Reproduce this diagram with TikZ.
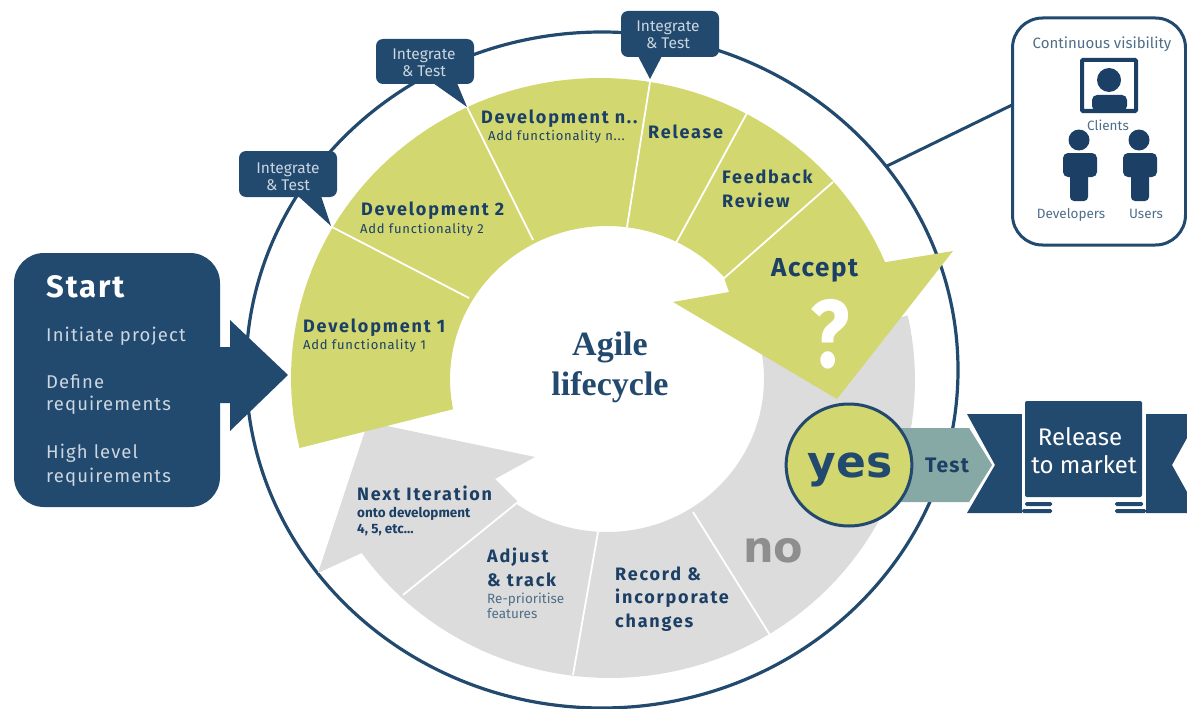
\documentclass[tikz,border=0pt]{standalone}
\usepackage{fontspec}
\setmainfont{Fira Sans}
\newfontfamily\spacedfont[LetterSpace=6]{Fira Sans}
\newfontfamily\wideheadfont[LetterSpace=10]{Fira Sans}
\newfontfamily\agilefont{Liberation Serif}
\newfontfamily\roundfont{DejaVu Sans}
\definecolor{navy}{HTML}{22496E}
\definecolor{navytext}{HTML}{1C3F66}
\definecolor{leaf}{HTML}{D2D76F}
\definecolor{ringgray}{HTML}{DCDCDC}
\definecolor{testteal}{HTML}{87A9A5}
\definecolor{paletext}{HTML}{CBD6E0}
\definecolor{notext}{HTML}{8E8E8E}
\definecolor{vistext}{HTML}{4F6E89}
\tikzset{
  lbl/.style={inner sep=0pt,anchor=base west,text=navytext},
  clbl/.style={inner sep=0pt,anchor=base,text=navytext},
  bighead/.style={font=\fontsize{18}{20}\selectfont\wideheadfont\bfseries},
  smalladd/.style={font=\fontsize{13}{15}\selectfont\spacedfont},
  startline/.style={lbl,text=paletext,font=\fontsize{18.5}{22}\selectfont\spacedfont},
  calltxt/.style={clbl,text=paletext,font=\fontsize{15.5}{17}\selectfont},
  vistxt/.style={clbl,text=vistext,font=\fontsize{13.5}{15}\selectfont},
  separator/.style={draw=white,line width=1.8pt},
  callout/.style={fill=navy,rounded corners=7pt},
  iconfill/.style={fill=navytext,draw=none},
}
\begin{document}
\begin{tikzpicture}[x=1pt,y=-1pt]
\useasboundingbox (0,0) rectangle (1187,709);
% outer circle
\draw[navy,line width=3.2pt] (602,370) ellipse [x radius=356pt,y radius=338pt];
% grey ring
\fill[ringgray]
  plot[domain=-12.5:144.5,samples=70] ({610+305*cos(\x)},{380+298*sin(\x)})
  -- (318,573) -- (368,422) -- (535,457) -- (495,479) -- (518,502)
  -- plot[domain=125:-10,samples=60] ({607+157*cos(\x)},{379+153*sin(\x)}) -- cycle;
% yellow ring with arrow
\fill[leaf]
  plot[domain=166.5:337.3,samples=80] ({600+309*cos(\x)},{378+300*sin(\x)})
  -- (953,251) -- (837,399) -- (673,302) -- (729,292)
  -- plot[domain=318:168.6,samples=60] ({607+157*cos(\x)},{379+153*sin(\x)}) -- cycle;
% separators
\draw[separator] (332,227) -- (469,298);
\draw[separator] (467,107) -- (533,240);
\draw[separator] (650,82) -- (627,227);
\draw[separator] (747,113) -- (676,243);
\draw[separator] (833,182) -- (722,280);
\draw[separator] (403,595) -- (518,502);
\draw[separator] (573,675) -- (598,532);
\draw[separator] (770,635) -- (693,512);
% start box and arrow
\fill[navy,rounded corners=30pt] (14,253) rectangle (220,507);
\fill[navy] (215,347) -- (230,347) -- (230,320) -- (288,375) -- (230,431) -- (230,403) -- (215,403) -- cycle;
% callouts
\fill[callout] (239,151) rectangle (337,197);
\fill[navy] (298,196) -- (331,226) -- (321,196) -- cycle;
\fill[callout] (376,39) rectangle (474,84);
\fill[navy] (433,83) -- (467,107) -- (457,83) -- cycle;
\fill[callout] (621,11) rectangle (719,57);
\fill[navy] (638,56) -- (650,79) -- (662,56) -- cycle;
% visibility box
\node[draw=navy,line width=3pt,rounded corners=30pt,fill=white,minimum width=173pt,minimum height=227pt,inner sep=0pt] (visbox) at (1099,131.5) {};
\coordinate (ringpt) at (887,166);
\coordinate (visend) at (1012,105);
\draw[navy,line width=3pt] (ringpt) -- (visend);
% monitor
\draw[navytext,line width=4pt,rounded corners=1pt] (1082,60) rectangle (1136,111);
\fill[iconfill] (1109,80) circle (12pt);
\fill[iconfill,rounded corners=5pt] (1092,111) -- (1092,95) -- (1127,95) -- (1127,111) -- cycle;
% persons
\fill[iconfill] (1079,140) circle (10.5pt);
\fill[iconfill,rounded corners=5pt] (1063,153) rectangle (1097,177);
\fill[iconfill,rounded corners=4pt] (1070,165) rectangle (1088,201);
\fill[iconfill] (1139,140) circle (10.5pt);
\fill[iconfill,rounded corners=5pt] (1123,153) rectangle (1157,177);
\fill[iconfill,rounded corners=4pt] (1131,165) rectangle (1149,201);
% test arrow
\fill[testteal] (895,428) -- (970,428) -- (993,465) -- (970,502) -- (895,502) -- cycle;
\draw[white,line width=1.3pt] (970,428) -- (993,465) -- (970,502);
% yes circle
\node[circle,draw=navy,fill=leaf,line width=3pt,minimum size=122pt,inner sep=0pt,xscale=1.03] (yescircle) at (849,465) {};
% ribbon
\fill[navy] (967,414) -- (1022,414) -- (1022,513) -- (967,513) -- (995,465) -- cycle;
\fill[navy] (1146,414) -- (1187,414) -- (1187,438) -- (1172,465) -- (1187,492) -- (1187,513) -- (1146,513) -- cycle;
\fill[navy,rounded corners=1.5pt] (1022,509) rectangle (1052,513);
\fill[navy,rounded corners=1.5pt] (1115,509) rectangle (1146,513);
\fill[white] (1022,414) rectangle (1146,509);
\fill[navy,rounded corners=1.5pt] (1025,502) rectangle (1052,506);
\fill[navy,rounded corners=1.5pt] (1115,502) rectangle (1143,506);
\fill[navy,rounded corners=2pt] (1025,401) rectangle (1142,497);
% texts
\node[lbl,text=white,font=\fontsize{31}{34}\selectfont\spacedfont\bfseries] (tstart) at (46,297) {Start};
\node[startline] (t1) at (46,341) {Initiate project};
\node[startline] (t2) at (46,388) {Define};
\node[startline] (t3) at (46,410) {requirements};
\node[startline] (t4) at (46,458) {High level};
\node[startline] (t5) at (46,482) {requirements};
\node[lbl,bighead] (d1) at (303,332) {Development 1};
\node[lbl,smalladd] (d1a) at (303,349) {Add functionality 1};
\node[lbl,bighead] (d2) at (361,215) {Development 2};
\node[lbl,smalladd] (d2a) at (360,233) {Add functionality 2};
\node[lbl,bighead] (dn) at (481,123) {Development n..};
\node[lbl,smalladd] (dna) at (488,140) {Add functionality n...};
\node[lbl,bighead] (rel) at (648,138) {Release};
\node[lbl,bighead] (fb) at (722,183) {Feedback};
\node[lbl,bighead] (rv) at (722,207) {Review};
\node[lbl,font=\fontsize{26}{28}\selectfont\spacedfont\bfseries] (acc) at (771,276) {Accept};
\node[clbl,text=white,font=\fontsize{96}{100}\selectfont\bfseries] (qm) at (830,367) {\scalebox{.85}[1]{?}};
\node[clbl,text=navy,font=\fontsize{34}{36}\selectfont\agilefont\bfseries] (ag) at (610,355) {Agile};
\node[clbl,text=navy,font=\fontsize{34}{36}\selectfont\agilefont\bfseries] (lc) at (610,395) {lifecycle};
\node[clbl,text=navy,font=\fontsize{44}{46}\selectfont\roundfont\bfseries] (yes) at (850,477) {yes};
\node[clbl,font=\fontsize{21}{23}\selectfont\spacedfont\bfseries] (tst) at (947,472) {Test};
\node[clbl,text=white,font=\fontsize{24}{26}\selectfont] (rm1) at (1080,445) {Release};
\node[clbl,text=white,font=\fontsize{24}{26}\selectfont] (rm2) at (1084,473) {to market};
\node[lbl,text=notext,font=\fontsize{43}{46}\selectfont\roundfont\bfseries] (no) at (743,562) {no};
\node[lbl,bighead] (ni) at (357,500) {Next Iteration};
\node[lbl,font=\fontsize{13.5}{15}\selectfont\bfseries] (ni2) at (357,517) {onto development};
\node[lbl,font=\fontsize{13.5}{15}\selectfont\bfseries] (ni3) at (357,533) {4, 5, etc...};
\node[lbl,bighead] (aj) at (487,562) {Adjust};
\node[lbl,bighead] (aj2) at (487,586) {\& track};
\node[lbl,font=\fontsize{13.5}{15}\selectfont,text=vistext] (aj3) at (487,603) {Re-prioritise};
\node[lbl,font=\fontsize{13.5}{15}\selectfont,text=vistext] (aj4) at (487,618) {features};
\node[lbl,bighead] (rc1) at (615,580) {Record \&};
\node[lbl,bighead] (rc2) at (615,603) {incorporate};
\node[lbl,bighead] (rc3) at (615,627) {changes};
\node[calltxt] (c1a) at (288,173) {Integrate};
\node[calltxt] (c1b) at (288,190) {\& Test};
\node[calltxt] (c2a) at (424,60) {Integrate};
\node[calltxt] (c2b) at (424,77) {\& Test};
\node[calltxt] (c3a) at (668,32) {Integrate};
\node[calltxt] (c3b) at (668,49) {\& Test};
\node[vistxt,font=\fontsize{15}{17}\selectfont] (v0) at (1102,49) {Continuous visibility};
\node[vistxt] (v1) at (1108,131) {Clients};
\node[vistxt] (v2) at (1071,218) {Developers};
\node[vistxt] (v3) at (1146,218) {Users};
\end{tikzpicture}
\end{document}
